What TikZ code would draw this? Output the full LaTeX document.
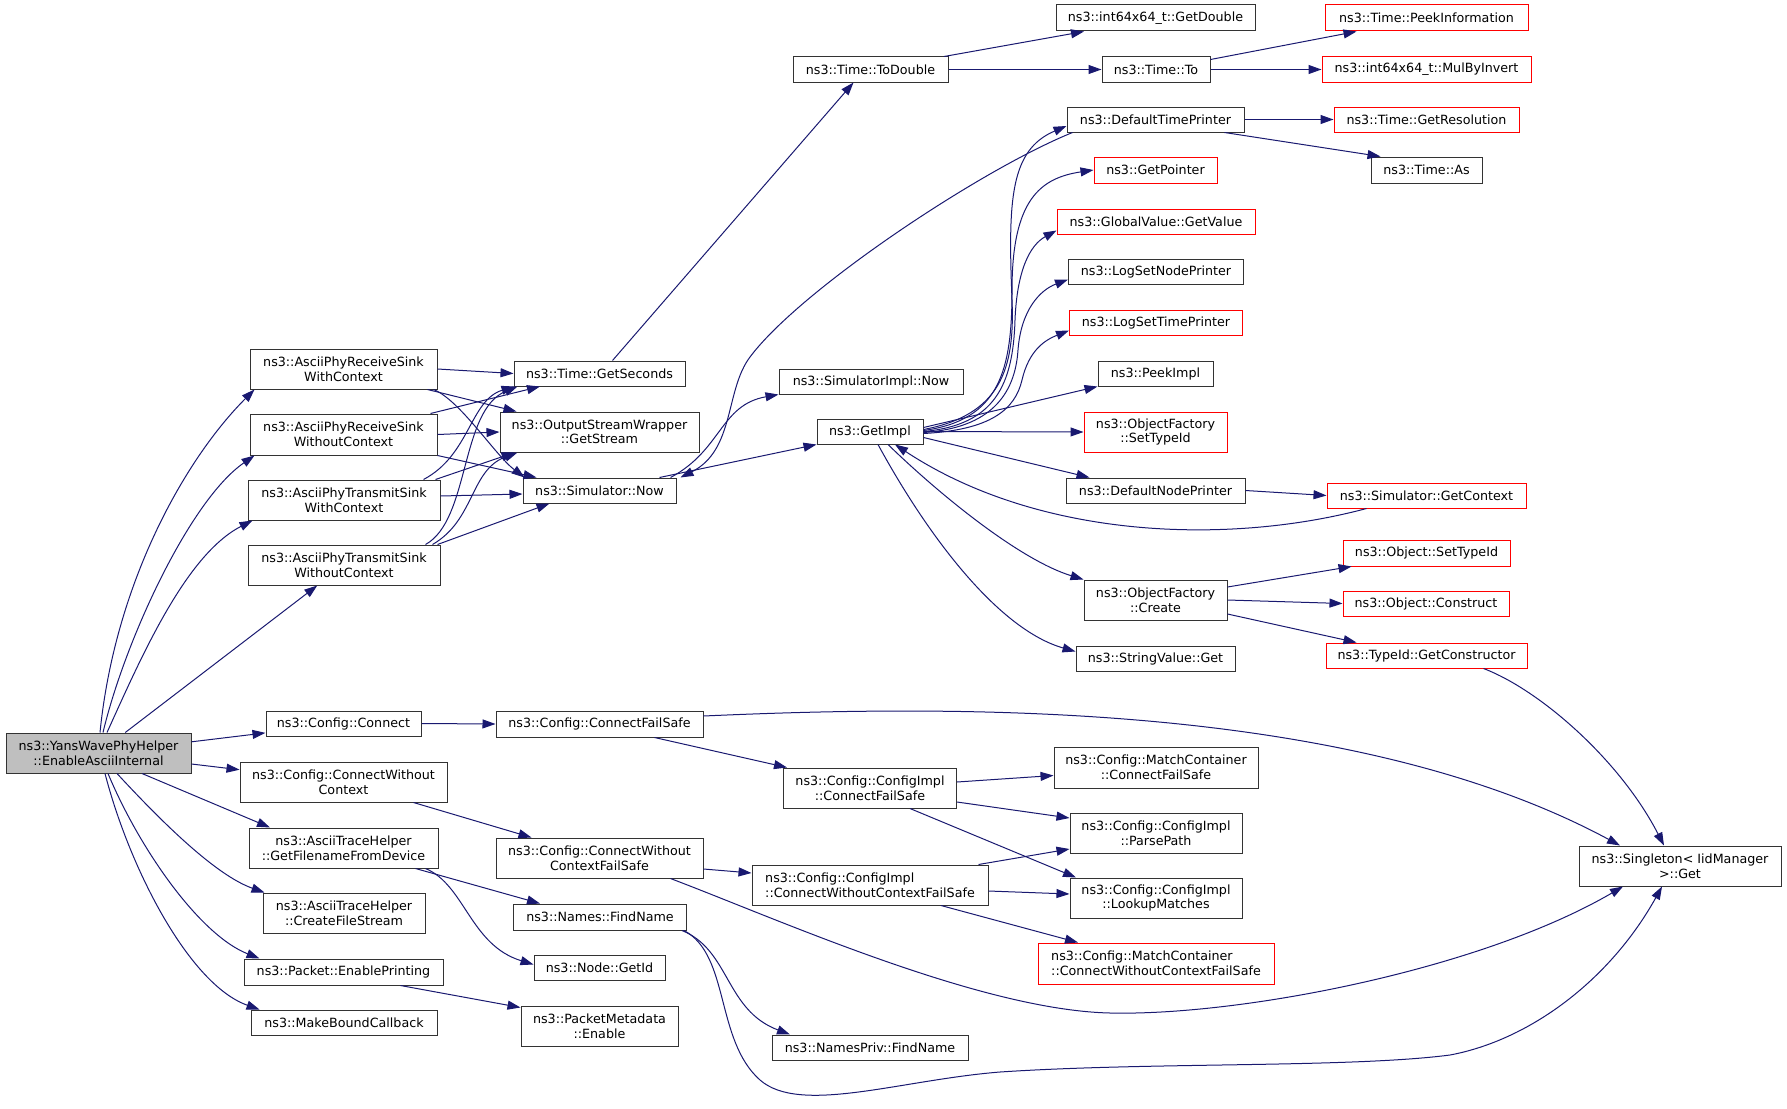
\documentclass[tikz,border=0pt]{standalone}
\usepackage{fontspec}
\setmainfont{DejaVu Sans}
\usetikzlibrary{arrows.meta}
\definecolor{edgeblue}{HTML}{191970}
\definecolor{rootgray}{HTML}{BFBFBF}
\newcommand\ndfont{\fontsize{12.7}{14.7}\selectfont}
\tikzset{
  bx/.style={draw=black!80, line width=1pt, fill=white, inner sep=0pt, align=center, font=\ndfont, minimum height=25pt},
  rbx/.style={bx, draw=red},
  ed/.style={draw=edgeblue, line width=1pt, -{Triangle[length=13pt,width=9pt]}},
}
\begin{document}
\begin{tikzpicture}[x=1pt,y=-1pt]
\useasboundingbox (0,0) rectangle (1787,1108);
% column 0
\node[bx, fill=rootgray, minimum width=185pt, minimum height=40pt] (root) at (98.5,753) {ns3::YansWavePhyHelper\\::EnableAsciiInternal};
% column 1
\node[bx, minimum width=187pt, minimum height=40pt] (rwc) at (343.5,369) {ns3::AsciiPhyReceiveSink\\WithContext};
\node[bx, minimum width=187pt, minimum height=41pt] (rwoc) at (343.5,434.5) {ns3::AsciiPhyReceiveSink\\WithoutContext};
\node[bx, minimum width=192pt, minimum height=40pt] (twc) at (344,500) {ns3::AsciiPhyTransmitSink\\WithContext};
\node[bx, minimum width=192pt, minimum height=40pt] (twoc) at (344,565) {ns3::AsciiPhyTransmitSink\\WithoutContext};
\node[bx, minimum width=155pt] (cconn) at (343.5,723.5) {ns3::Config::Connect};
\node[bx, minimum width=207pt, minimum height=40pt] (cconnwo) at (343.5,782) {ns3::Config::ConnectWithout\\Context};
\node[bx, minimum width=189pt, minimum height=40pt] (gffd) at (343.5,848) {ns3::AsciiTraceHelper\\::GetFilenameFromDevice};
\node[bx, minimum width=162pt, minimum height=40pt] (cfs) at (344,913) {ns3::AsciiTraceHelper\\::CreateFileStream};
\node[bx, minimum width=199pt, minimum height=26pt] (pep) at (343.5,972) {ns3::Packet::EnablePrinting};
\node[bx, minimum width=186pt] (mbc) at (344,1022.5) {ns3::MakeBoundCallback};
% column 2
\node[bx, minimum width=171pt] (gsec) at (599.5,373.5) {ns3::Time::GetSeconds};
\node[bx, minimum width=199pt, minimum height=40pt] (gstr) at (599.5,432) {ns3::OutputStreamWrapper\\::GetStream};
\node[bx, minimum width=153pt] (snow) at (599.5,490.5) {ns3::Simulator::Now};
\node[bx, minimum width=207pt, minimum height=26pt] (ccfs) at (599.5,724) {ns3::Config::ConnectFailSafe};
\node[bx, minimum width=207pt, minimum height=40pt] (ccwcfs) at (599.5,858) {ns3::Config::ConnectWithout\\ContextFailSafe};
\node[bx, minimum width=173pt, minimum height=26pt] (nfn) at (600,917) {ns3::Names::FindName};
\node[bx, minimum width=131pt] (ngid) at (599.5,967.5) {ns3::Node::GetId};
\node[bx, minimum width=157pt, minimum height=40pt] (pme) at (599.5,1026) {ns3::PacketMetadata\\::Enable};
% column 3
\node[bx, minimum width=155pt] (todbl) at (870.5,69.5) {ns3::Time::ToDouble};
\node[bx, minimum width=184pt] (simpl) at (871,381.5) {ns3::SimulatorImpl::Now};
\node[bx, minimum width=106pt] (gimpl) at (870,431.5) {ns3::GetImpl};
\node[bx, minimum width=173pt, minimum height=40pt] (cicfs) at (870,788) {ns3::Config::ConfigImpl\\::ConnectFailSafe};
\node[bx, align=left, minimum width=236pt, minimum height=40pt] (cicwcfs) at (870,885) {ns3::Config::ConfigImpl\\::ConnectWithoutContextFailSafe};
\node[bx, minimum width=196pt] (nsfn) at (870,1047.5) {ns3::NamesPriv::FindName};
% column 4
\node[bx, minimum width=199pt, minimum height=26pt] (gdbl) at (1155.5,18) {ns3::int64x64\_t::GetDouble};
\node[bx, minimum width=108pt] (tto) at (1156,69.5) {ns3::Time::To};
\node[bx, minimum width=177pt] (dtp) at (1155.5,119.5) {ns3::DefaultTimePrinter};
\node[rbx, minimum width=123pt, minimum height=26pt] (gptr) at (1155.5,170) {ns3::GetPointer};
\node[rbx, minimum width=198pt] (gvgv) at (1156,221.5) {ns3::GlobalValue::GetValue};
\node[bx, minimum width=175pt] (lsnp) at (1156,271.5) {ns3::LogSetNodePrinter};
\node[rbx, minimum width=173pt] (lstp) at (1156,322.5) {ns3::LogSetTimePrinter};
\node[bx, minimum width=115pt] (pimpl) at (1155.5,373.5) {ns3::PeekImpl};
\node[rbx, minimum width=143pt, minimum height=40pt] (ofsti) at (1155.5,432) {ns3::ObjectFactory\\::SetTypeId};
\node[bx, minimum width=179pt] (dnp) at (1155.5,490.5) {ns3::DefaultNodePrinter};
\node[bx, minimum width=143pt, minimum height=40pt] (ofc) at (1155.5,600) {ns3::ObjectFactory\\::Create};
\node[bx, minimum width=159pt] (svg) at (1155.5,658.5) {ns3::StringValue::Get};
\node[bx, minimum width=204pt, minimum height=41pt] (mccfs) at (1156,767.5) {ns3::Config::MatchContainer\\::ConnectFailSafe};
\node[bx, minimum width=172pt, minimum height=40pt] (cipp) at (1156,833) {ns3::Config::ConfigImpl\\::ParsePath};
\node[bx, minimum width=172pt, minimum height=40pt] (cilm) at (1156,898) {ns3::Config::ConfigImpl\\::LookupMatches};
\node[rbx, align=left, minimum width=236pt, minimum height=41pt] (mccwcfs) at (1156,963.5) {ns3::Config::MatchContainer\\::ConnectWithoutContextFailSafe};
% column 5
\node[rbx, minimum width=203pt, minimum height=26pt] (tpi) at (1426.5,18) {ns3::Time::PeekInformation};
\node[rbx, minimum width=209pt] (mbi) at (1426.5,69.5) {ns3::int64x64\_t::MulByInvert};
\node[rbx, minimum width=185pt] (tgr) at (1426.5,119.5) {ns3::Time::GetResolution};
\node[bx, minimum width=111pt, minimum height=26pt] (tas) at (1426.5,170) {ns3::Time::As};
\node[rbx, minimum width=199pt] (sgc) at (1426.5,495.5) {ns3::Simulator::GetContext};
\node[rbx, minimum width=167pt, minimum height=26pt] (osti) at (1426.5,553) {ns3::Object::SetTypeId};
\node[rbx, minimum width=166pt] (ocon) at (1426,603.5) {ns3::Object::Construct};
\node[rbx, minimum width=201pt] (tgc) at (1426.5,655.5) {ns3::TypeId::GetConstructor};
% column 6
\node[bx, minimum width=202pt, minimum height=40pt] (sing) at (1680,866) {ns3::Singleton< IidManager\\>::Get};

% ---- edges from root
\draw[ed] ([xshift=1.5]root.north) .. controls (115,583) and (185,459) .. ([xshift=5]rwc.south west);
\draw[ed] ([xshift=4.5]root.north) .. controls (125,640) and (190,500) .. ([xshift=5]rwoc.south west);
\draw[ed] ([xshift=8.5]root.north) .. controls (140,660) and (185,555) .. ([xshift=5]twc.south west);
\draw[ed] (root) -- (twoc);
\draw[ed] (root) -- (cconn);
\draw[ed] (root) -- (cconnwo);
\draw[ed] ([xshift=43.5]root.south) -- ([xshift=-73.5]gffd.north);
\draw[ed] ([xshift=18.5]root.south) .. controls (160,820) and (215,875) .. ([xshift=2]cfs.north west);
\draw[ed] ([xshift=9.5]root.south) .. controls (140,850) and (200,935) .. ([xshift=16]pep.north west);
\draw[ed] ([xshift=6.5]root.south) .. controls (130,870) and (190,985) .. ([xshift=9]mbc.north west);
% ---- column 1 to column 2
\draw[ed] (rwc.east) -- (gsec.west);
\draw[ed] ([xshift=-10]rwc.south east) -- ([xshift=17]gstr.north west);
\draw[ed] ([xshift=-4]rwc.south east) .. controls (460,400) and (495,455) .. ([xshift=2]snow.north west);
\draw[ed] ([xshift=-7]rwoc.north east) -- ([xshift=-59.5]gsec.south);
\draw[ed] (rwoc.east) -- (gstr.west);
\draw[ed] (rwoc.south east) -- ([xshift=14]snow.north west);
\draw[ed] ([xshift=-17]twc.north east) .. controls (470,455) and (470,400) .. ([xshift=1]gsec.south west);
\draw[ed] ([xshift=-5]twc.north east) -- ([xshift=15]gstr.south west);
\draw[ed] ([yshift=4]twc.east) -- ([yshift=-3.5]snow.west);
\draw[ed] ([xshift=-15]twoc.north east) .. controls (470,520) and (460,410) .. ([xshift=4]gsec.south west);
\draw[ed] ([xshift=-8]twoc.north east) .. controls (475,520) and (470,470) .. ([xshift=18]gstr.south west);
\draw[ed] ([xshift=-3]twoc.north east) -- ([xshift=-50]snow.south);
% ---- column 2 onwards
\draw[ed] ([xshift=13]gsec.north) -- ([xshift=-17]todbl.south);
\draw[ed] ([xshift=-6]snow.north east) .. controls (722,450) and (720,405) .. (simpl.south west);
\draw[ed] ([xshift=6]dtp.south west) .. controls (980,170) and (800,290) .. (750,357) .. controls (725,390) and (735,450) .. ([xshift=4]snow.north east);
\draw[ed] ([xshift=60]snow.north) -- (gimpl.south west);
\draw[ed] ([xshift=73.5]todbl.north) -- ([xshift=-71.5]gdbl.south);
\draw[ed] (todbl.east) -- (tto.west);
\draw[ed] ([yshift=-3]tto.north east) -- ([xshift=-70]tpi.south);
\draw[ed] (tto.east) -- (mbi.west);
\draw[ed] (dtp.east) -- (tgr.west);
\draw[ed] ([xshift=-20]dtp.south east) -- ([xshift=10]tas.north west);
% ---- GetImpl fan
\draw[ed] ([yshift=2]gimpl.east) .. controls (1000,415) and (1015,370) .. (1012,300) .. controls (1008,200) and (1010,150) .. ([yshift=-6.5]dtp.west);
\draw[ed] ([yshift=1]gimpl.east) .. controls (1000,420) and (1012,370) .. (1012,290) .. controls (1012,200) and (1040,178) .. (gptr.west);
\draw[ed] (gimpl.east) .. controls (995,425) and (1013,385) .. (1015,320) .. controls (1017,270) and (1030,245) .. ([yshift=-9]gvgv.west);
\draw[ed] ([yshift=-1]gimpl.east) .. controls (990,428) and (1015,395) .. (1018,350) .. controls (1021,310) and (1040,290) .. ([yshift=-8]lsnp.west);
\draw[ed] ([yshift=-2]gimpl.east) .. controls (990,430) and (1015,410) .. (1022,380) .. controls (1029,350) and (1045,340) .. ([yshift=-8]lstp.west);
\draw[ed] ([yshift=4]gimpl.east) -- (pimpl.south west);
\draw[ed] (gimpl.east) -- (ofsti.west);
\draw[ed] ([yshift=-6]gimpl.east) -- ([xshift=24]dnp.north west);
\draw[ed] ([xshift=18]gimpl.south) .. controls (940,495) and (1020,560) .. (ofc.north west);
\draw[ed] ([xshift=8]gimpl.south) .. controls (930,540) and (1000,630) .. ([yshift=7]svg.west);
\draw[ed] ([xshift=-60]sgc.south) .. controls (1230,545) and (1040,540) .. ([xshift=25]gimpl.south);
\draw[ed] (dnp.east) -- (sgc.west);
\draw[ed] ([yshift=13]ofc.east) -- ([xshift=-75]osti.south);
\draw[ed] (ofc.east) -- (ocon.west);
\draw[ed] ([yshift=-14]ofc.east) -- ([xshift=-70]tgc.north);
\draw[ed] ([xshift=57]tgc.south) .. controls (1540,690) and (1620,760) .. ([xshift=-16]sing.north);
% ---- Config branch
\draw[ed] (cconn.east) -- (ccfs.west);
\draw[ed] ([yshift=8]ccfs.east) .. controls (950,705) and (1350,700) .. ([xshift=-60]sing.north);
\draw[ed] ([xshift=55]ccfs.south) -- ([xshift=-83]cicfs.north);
\draw[ed] ([xshift=70]cconnwo.south) -- ([xshift=-68]ccwcfs.north);
\draw[ed] ([yshift=-11]ccwcfs.east) -- ([yshift=12]cicwcfs.west);
\draw[ed] ([xshift=71]ccwcfs.south) .. controls (780,920) and (980,1010) .. (1110,1013) .. controls (1240,1016) and (1480,970) .. ([xshift=-57]sing.south);
\draw[ed] ([yshift=6]cicfs.east) -- ([yshift=-8]mccfs.west);
\draw[ed] ([yshift=-14]cicfs.east) -- ([yshift=15]cipp.west);
\draw[ed] ([xshift=40]cicfs.south) -- ([xshift=-80]cilm.north);
\draw[ed] ([xshift=-10]cicwcfs.north east) -- ([yshift=-16]cipp.west);
\draw[ed] ([yshift=-6]cicwcfs.east) -- ([yshift=4]cilm.west);
\draw[ed] ([xshift=71]cicwcfs.south) -- ([xshift=-78]mccwcfs.north);
% ---- Names / Packet
\draw[ed] ([xshift=72]gffd.south) -- ([xshift=-60]nfn.north);
\draw[ed] ([xshift=82]gffd.south) .. controls (465,885) and (470,945) .. ([yshift=3]ngid.west);
\draw[ed] ([xshift=-5]nfn.south east) .. controls (730,950) and (725,1010) .. ([xshift=-80]nsfn.north);
\draw[ed] ([xshift=-3]nfn.south east) .. controls (730,955) and (715,1040) .. (760,1080) .. controls (800,1115) and (900,1080) .. (1000,1072) .. controls (1150,1062) and (1350,1068) .. (1450,1055) .. controls (1530,1040) and (1610,980) .. ([xshift=-18]sing.south);
\draw[ed] ([xshift=57]pep.south) -- ([yshift=-2]pme.north west);
\end{tikzpicture}
\end{document}
